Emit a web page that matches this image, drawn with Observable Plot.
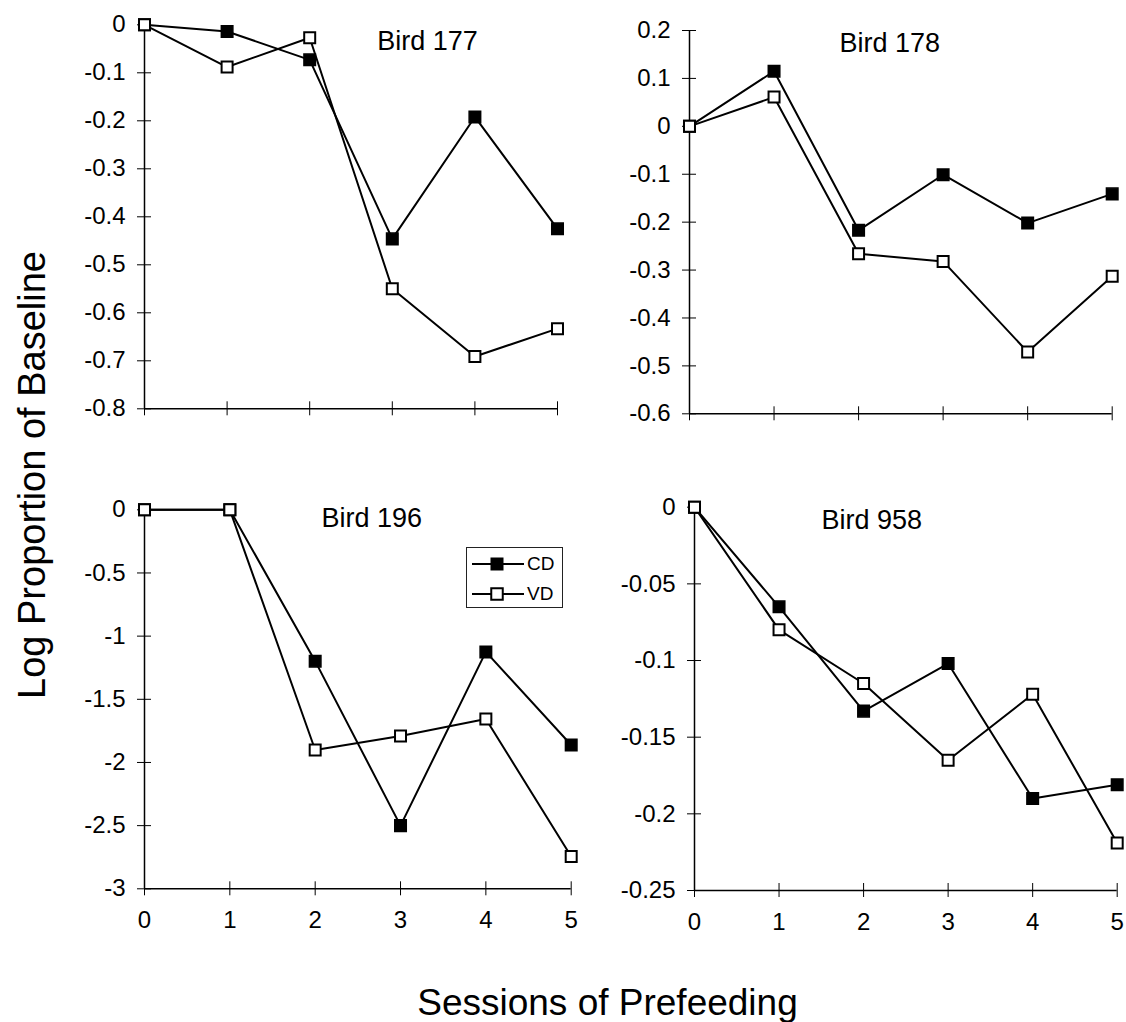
<!DOCTYPE html>
<html>
<head>
<meta charset="utf-8">
<script src="https://cdn.jsdelivr.net/npm/d3@7"></script>
<script src="https://cdn.jsdelivr.net/npm/@observablehq/plot@0.6"></script>
<style>
  body { margin: 0; background: #fff; }
  #chart { position: relative; width: 1126px; height: 1022px; background: #fff;
           font-family: "Liberation Sans", Arial, sans-serif; color: #000; overflow: hidden; }
  .panel { position: absolute; }
  .panel svg { overflow: visible; }
  .ylabel { position: absolute; width: 600px; height: 38px; line-height: 38px; font-size: 38px;
            text-align: center; white-space: nowrap; transform: rotate(-90deg); transform-origin: 50% 50%; }
  .xlabel { position: absolute; width: 800px; height: 37px; line-height: 37px; font-size: 37px;
            text-align: center; white-space: nowrap; }
  .legend { position: absolute; box-sizing: border-box; border: 1px solid #222; background: #fff; }
  .legend .row { position: absolute; left: 0; height: 30px; }
  .legend .row span { position: absolute; font-size: 19px; line-height: 30px; top: 0; }
</style>
</head>
<body>
<div id="chart"></div>
<script>
// ---------- data ----------
const sessions = [0, 1, 2, 3, 4, 5];
const seriesNames = ["CD", "VD"];
const panelTitles = ["Bird 177", "Bird 178", "Bird 196", "Bird 958"];

const cd177 = [0, -0.014, -0.073, -0.446, -0.192, -0.425];
const vd177 = [0, -0.088, -0.027, -0.550, -0.691, -0.633];
const cd178 = [0, 0.115, -0.217, -0.101, -0.202, -0.141];
const vd178 = [0, 0.061, -0.266, -0.282, -0.471, -0.313];
const cd196 = [0, 0, -1.198, -2.500, -1.125, -1.862];
const vd196 = [0, 0, -1.901, -1.790, -1.656, -2.744];
const cd958 = [0, -0.065, -0.133, -0.102, -0.190, -0.181];
const vd958 = [0, -0.080, -0.115, -0.165, -0.122, -0.219];

const yTicks177 = [0, -0.1, -0.2, -0.3, -0.4, -0.5, -0.6, -0.7, -0.8];
const yTicks178 = [0.2, 0.1, 0, -0.1, -0.2, -0.3, -0.4, -0.5, -0.6];
const yTicks196 = [0, -0.5, -1, -1.5, -2, -2.5, -3];
const yTicks958 = [0, -0.05, -0.1, -0.15, -0.2, -0.25];

const xAxisTitle = "Sessions of Prefeeding";
const yAxisTitle = "Log Proportion of Baseline";

// ---------- layout ----------
const FONT = '"Liberation Sans", Arial, sans-serif';
const panels = [
  {title: panelTitles[0], cd: cd177, vd: vd177, yTicks: yTicks177, xLabels: false,
   left: 0, top: 0, width: 580, height: 440, ml: 144, mr: 23, mt: 24.3, mb: 31.7, tdx: 76.5, tdy: 17},
  {title: panelTitles[1], cd: cd178, vd: vd178, yTicks: yTicks178, xLabels: false,
   left: 580, top: 0, width: 546, height: 440, ml: 109, mr: 14.3, mt: 30, mb: 26.7, tdx: -11, tdy: 12.5},
  {title: panelTitles[2], cd: cd196, vd: vd196, yTicks: yTicks196, xLabels: true,
   left: 0, top: 470, width: 590, height: 470, ml: 144, mr: 19.3, mt: 39.3, mb: 51.7, tdx: 14, tdy: 9},
  {title: panelTitles[3], cd: cd958, vd: vd958, yTicks: yTicks958, xLabels: true,
   left: 590, top: 470, width: 536, height: 470, ml: 104, mr: 9.3, mt: 36.7, mb: 50, tdx: -34, tdy: 13}
];

const fmt = d => String(d);
const chart = document.getElementById("chart");

function makePanel(p) {
  const fw = p.width - p.ml - p.mr;
  const fh = p.height - p.mt - p.mb;
  const cdRows = sessions.map((s, i) => ({session: s, value: p.cd[i], series: seriesNames[0]}));
  const vdRows = sessions.map((s, i) => ({session: s, value: p.vd[i], series: seriesNames[1]}));
  const yDomain = d3.extent(p.yTicks);
  const marks = [
    Plot.ruleX([sessions[0]], {stroke: "#000", strokeWidth: 1.5}),
    Plot.ruleY([yDomain[0]], {stroke: "#000", strokeWidth: 1.5}),
    Plot.tickY(p.yTicks, {y: d => d, stroke: "#000", strokeWidth: 1, insetLeft: -7, insetRight: fw - 7}),
    Plot.tickX(sessions, {x: d => d, stroke: "#000", strokeWidth: 1, insetTop: fh - 7, insetBottom: -7}),
    Plot.axisY(p.yTicks, {anchor: "left", tickSize: 0, tickPadding: 19, tickFormat: fmt, fontSize: 24, label: null, fill: "#000"}),
    Plot.line(cdRows, {x: "session", y: "value", stroke: "#000", strokeWidth: 2}),
    Plot.dot(cdRows, {x: "session", y: "value", symbol: "square", r: 6.5, fill: "#000", stroke: "#000", strokeWidth: 1.5}),
    Plot.line(vdRows, {x: "session", y: "value", stroke: "#000", strokeWidth: 2}),
    Plot.dot(vdRows, {x: "session", y: "value", symbol: "square", r: 6.2, fill: "#fff", stroke: "#000", strokeWidth: 2}),
    Plot.text([p.title], {text: d => d, frameAnchor: "top", dx: p.tdx, dy: p.tdy, lineAnchor: "middle", fontSize: 27, fill: "#000"})
  ];
  if (p.xLabels) {
    marks.push(Plot.axisX(sessions, {anchor: "bottom", tickSize: 0, tickPadding: 22, tickFormat: fmt, fontSize: 24, label: null, fill: "#000"}));
  }
  const svg = Plot.plot({
    width: p.width,
    height: p.height,
    marginLeft: p.ml, marginRight: p.mr, marginTop: p.mt, marginBottom: p.mb,
    x: p.xLabels ? {domain: d3.extent(sessions)} : {domain: d3.extent(sessions), axis: null},
    y: {domain: yDomain},
    style: {fontFamily: FONT, fontSize: "24px", color: "#000", background: "transparent", overflow: "visible"},
    marks
  });
  const wrap = document.createElement("div");
  wrap.className = "panel";
  wrap.style.left = p.left + "px";
  wrap.style.top = p.top + "px";
  wrap.appendChild(svg);
  chart.appendChild(wrap);
}
panels.forEach(makePanel);

// ---------- legend (inside Bird 196 panel) ----------
const legend = document.createElement("div");
legend.className = "legend";
Object.assign(legend.style, {left: "466px", top: "547px", width: "97px", height: "61px"});
seriesNames.forEach((name, i) => {
  const row = document.createElement("div");
  row.className = "row";
  row.style.top = (1 + i * 30) + "px";
  row.style.width = "95px";
  const ns = "http://www.w3.org/2000/svg";
  const sw = document.createElementNS(ns, "svg");
  sw.setAttribute("width", "60");
  sw.setAttribute("height", "30");
  sw.style.position = "absolute";
  sw.style.left = "0px";
  sw.style.top = "0px";
  const ln = document.createElementNS(ns, "line");
  ln.setAttribute("x1", "5"); ln.setAttribute("x2", "57");
  ln.setAttribute("y1", "15"); ln.setAttribute("y2", "15");
  ln.setAttribute("stroke", "#000"); ln.setAttribute("stroke-width", "2");
  const rc = document.createElementNS(ns, "rect");
  rc.setAttribute("x", String(30 - 5.75)); rc.setAttribute("y", String(15 - 5.75));
  rc.setAttribute("width", "11.5"); rc.setAttribute("height", "11.5");
  rc.setAttribute("fill", i === 0 ? "#000" : "#fff");
  rc.setAttribute("stroke", "#000"); rc.setAttribute("stroke-width", i === 0 ? "1.5" : "2");
  sw.appendChild(ln); sw.appendChild(rc);
  const tx = document.createElement("span");
  tx.textContent = name;
  tx.style.left = "60px";
  row.appendChild(sw); row.appendChild(tx);
  legend.appendChild(row);
});
chart.appendChild(legend);

// ---------- axis titles ----------
const yl = document.createElement("div");
yl.className = "ylabel";
yl.textContent = yAxisTitle;
yl.style.left = (31.8 - 300) + "px";
yl.style.top = (474.5 - 19) + "px";
chart.appendChild(yl);

const xl = document.createElement("div");
xl.className = "xlabel";
xl.textContent = xAxisTitle;
xl.style.left = (607.5 - 400) + "px";
xl.style.top = "983.7px";
chart.appendChild(xl);
</script>
</body>
</html>
